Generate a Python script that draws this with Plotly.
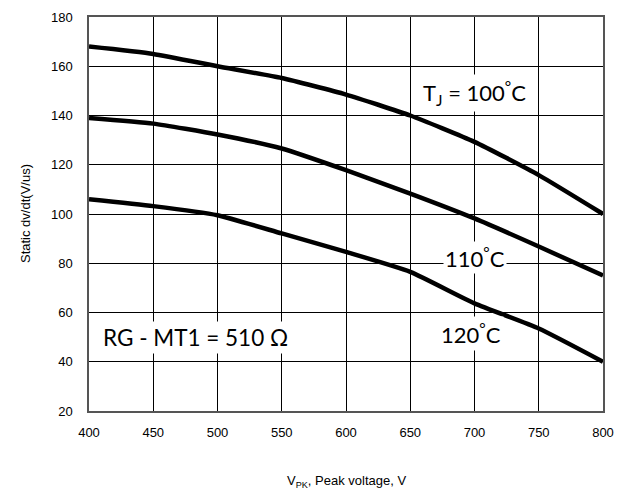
import plotly.graph_objects as go

voltage = [400, 450, 500, 550, 600, 650, 700, 750, 800]
dvdt_100C = [168, 165, 160, 155.2, 148.5, 140, 129.3, 115.8, 100]
dvdt_110C = [139, 136.7, 132.3, 126.6, 117.8, 108.3, 98.2, 86.8, 75]
dvdt_120C = [106, 103.2, 99.5, 92.1, 84.6, 76.5, 63.7, 53.5, 40]

x_ticks = [400, 450, 500, 550, 600, 650, 700, 750, 800]
y_ticks = [20, 40, 60, 80, 100, 120, 140, 160, 180]

fig = go.Figure()
for ys in (dvdt_100C, dvdt_110C, dvdt_120C):
    fig.add_trace(go.Scatter(x=voltage, y=ys, mode="lines",
                             line=dict(color="black", width=4.5, shape="spline", smoothing=0.5),
                             showlegend=False, hoverinfo="skip"))

lab_font = dict(family="Lato, Open Sans, sans-serif", size=22, color="black")
fig.add_annotation(x=700, y=149, text="T<sub>J</sub> = 100<sup>°</sup>C", showarrow=False,
                   font=lab_font, bgcolor="white", borderpad=2)
fig.add_annotation(x=700, y=82.5, text="110<sup>°</sup>C", showarrow=False,
                   font=lab_font, bgcolor="white", borderpad=1)
fig.add_annotation(x=697, y=51.5, text="120<sup>°</sup>C", showarrow=False,
                   font=lab_font, bgcolor="white", borderpad=2)
fig.add_annotation(x=483, y=50, text="RG - MT1 = 510 Ω", showarrow=False,
                   font=dict(family="Lato, Open Sans, sans-serif", size=22.5, color="black"),
                   bgcolor="white", borderpad=2)

title_font = dict(family="Arial, Liberation Sans", size=13, color="black")
fig.add_annotation(xref="paper", yref="paper", x=0.5, y=-0.18, yanchor="middle",
                   text="V<sub>PK</sub>, Peak voltage, V", showarrow=False, font=title_font)
fig.add_annotation(xref="paper", yref="paper", x=-0.1245, y=0.5, xanchor="center", yanchor="middle",
                   text="Static dv/dt(V/us)", textangle=-90, showarrow=False, font=title_font)

axis_common = dict(showline=True, linecolor="#555", linewidth=1.5, mirror=True,
                   showgrid=True, gridcolor="black", gridwidth=1, automargin=False,
                   zeroline=False, ticks="", tickfont=dict(family="Arial, Liberation Sans", size=13, color="black"))

fig.update_xaxes(range=[400, 800], tickvals=x_ticks, ticktext=[str(v) for v in x_ticks],
                 ticklabelstandoff=9, **axis_common)
fig.update_yaxes(range=[20, 180], tickvals=y_ticks, ticktext=[str(v) for v in y_ticks],
                 ticklabelstandoff=12, **axis_common)

fig.update_layout(width=623, height=486, margin=dict(l=81, r=28, t=9, b=83),
                  plot_bgcolor="white", paper_bgcolor="white")

fig.write_html("out.html")
